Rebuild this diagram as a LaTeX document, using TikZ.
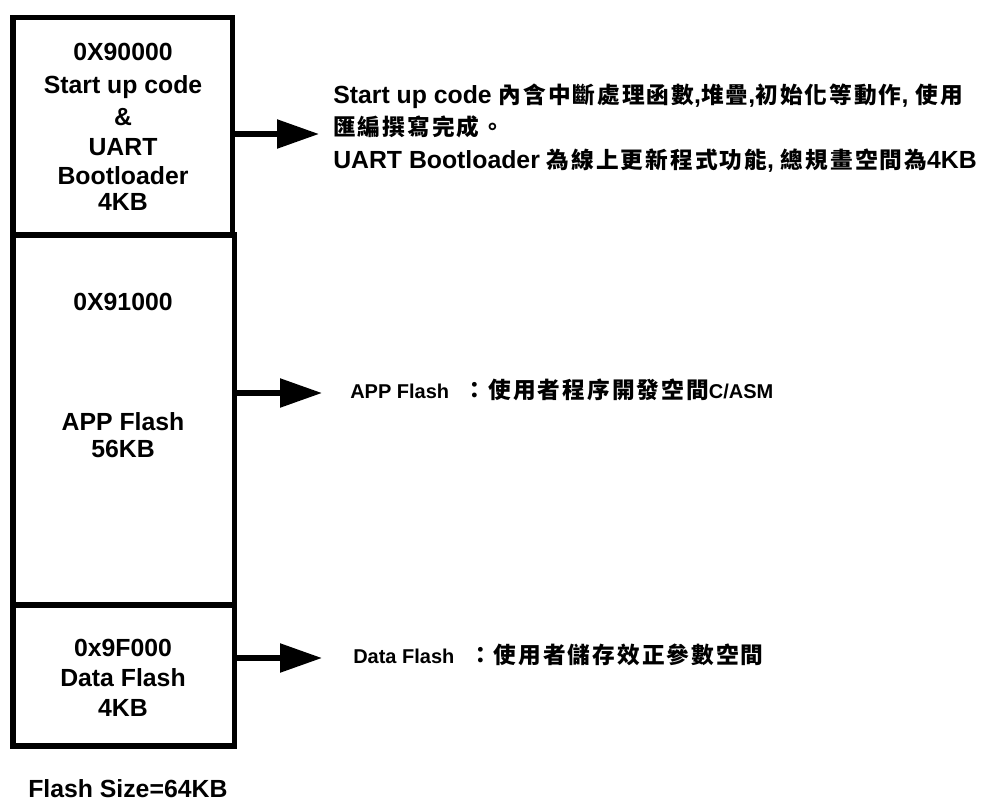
\documentclass[tikz,border=0pt]{standalone}
\usepackage{fontspec}
\setmainfont{Liberation Sans}
\newfontfamily\cjkfont{Noto Sans CJK TC}[LetterSpace=9]
\usetikzlibrary{arrows.meta}

% Chinese runs inside the Latin text
\newcommand\zh[1]{{\cjkfont\fontsize{17pt}{20pt}\selectfont #1}}

\begin{document}
\begin{tikzpicture}[x=0.75pt, y=-0.75pt,
  mem/.style={draw, line width=4.1pt, inner sep=0pt},
  boxtext/.style={anchor=base, inner sep=0pt, font=\bfseries\fontsize{18.6pt}{22pt}\selectfont},
  bigtext/.style={anchor=base west, inner sep=0pt, font=\bfseries\fontsize{18.6pt}{22pt}\selectfont},
  smalltext/.style={anchor=base west, inner sep=0pt, font=\bfseries\fontsize{15pt}{18pt}\selectfont},
  flow/.style={line width=4.1pt, -{Triangle[length=31.5pt, width=21pt]}}]
\useasboundingbox (0,0) rectangle (986,801);

% memory map blocks
\node[mem, minimum width=164.6pt, minimum height=163.1pt] (boot) at (122.75,126.25) {};
\node[mem, minimum width=166.1pt, minimum height=277.5pt] (app) at (123.75,420) {};
\node[mem, minimum width=166.1pt, minimum height=105.75pt] (data) at (123.75,675.5) {};

% labels of the boot block
\node[boxtext] (b1) at (123,60) {0X90000};
\node[boxtext] (b2) at (123,93) {Start up code};
\node[boxtext] (b3) at (123,125) {\&};
\node[boxtext] (b4) at (123,155) {UART};
\node[boxtext] (b5) at (123,184) {Bootloader};
\node[boxtext] (b6) at (123,210) {4KB};

% labels of the application block
\node[boxtext] (p1) at (123,310) {0X91000};
\node[boxtext] (p2) at (123,430) {APP Flash};
\node[boxtext] (p3) at (123,457) {56KB};

% labels of the data block
\node[boxtext] (d1) at (123,656) {0x9F000};
\node[boxtext] (d2) at (123,686) {Data Flash};
\node[boxtext] (d3) at (123,716) {4KB};

\node[bigtext] (size) at (28,797) {Flash Size=64KB};

% descriptions
\node[bigtext] (t1a) at (333,103) {Start up code \zh{內含中斷處理函數},\zh{堆疊},\zh{初始化等動作}, \zh{使用}};
\node[bigtext] (t1b) at (333,135.5) {\zh{匯編撰寫完成。}};
\node[bigtext] (t1c) at (333,168) {UART Bootloader \zh{為線上更新程式功能}, \zh{總規畫空間為}4KB};
\node[smalltext] (t2) at (350,398) {APP Flash\hspace{11pt}\zh{：使用者程序開發空間}C/ASM};
\node[smalltext] (t3) at (353,663) {Data Flash\hspace{11pt}\zh{：使用者儲存效正參數空間}};

% pointers from the blocks to their descriptions
\coordinate (a1) at (319,134);
\coordinate (a2) at (322,393);
\coordinate (a3) at (322,658);
\draw[flow] (boot.east |- a1) -- (a1);
\draw[flow] (app.east |- a2) -- (a2);
\draw[flow] (data.east |- a3) -- (a3);
\end{tikzpicture}
\end{document}
